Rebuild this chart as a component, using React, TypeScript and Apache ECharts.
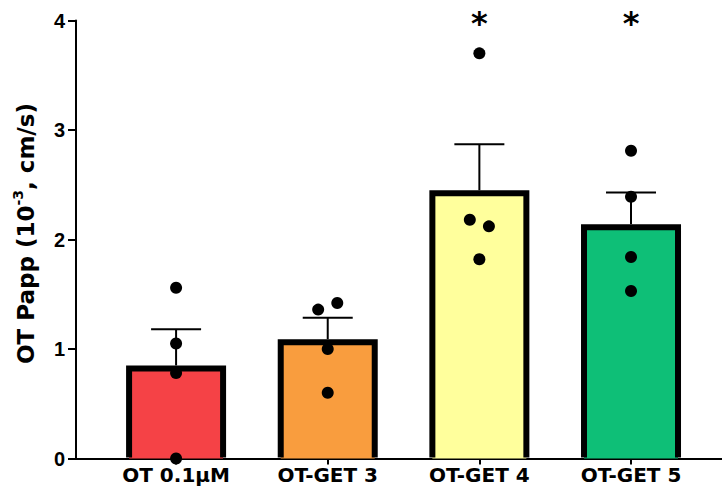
import React, { useEffect, useRef } from "react";
import * as echarts from "echarts";

// ---- data ----
const categories = ["OT 0.1μM", "OT-GET 3", "OT-GET 4", "OT-GET 5"];
const means = [0.85, 1.09, 2.45, 2.14];
const sems = [0.33, 0.195, 0.42, 0.29];
const barColors = ["#F54246", "#F99D3E", "#FFFF9C", "#0EBF77"];
// individual points per group
const group1Points = [1.56, 1.05, 0.78, 0.0];
const group2Points = [1.42, 1.36, 1.0, 0.6];
const group3Points = [3.7, 2.18, 2.12, 1.82];
const group4Points = [2.81, 2.39, 1.84, 1.53];
// horizontal jitter of each point (category units)
const group1Jitter = [0, 0, 0, 0];
const group2Jitter = [0.063, -0.063, 0, 0];
const group3Jitter = [0, -0.063, 0.063, 0];
const group4Jitter = [0, 0, 0, 0];
const sigMarks = ["", "", "*", "*"];
const sigLevel = 3.98;
const yTicks = [0, 1, 2, 3, 4];

const FONT = "DejaVu Sans";
const TICK_FONT = "Liberation Sans";
const BAR_HALF = 47; // px, stroke centre
const BORDER = 6;
const CAP_HALF = 25;

export default function App() {
  const ref = useRef<HTMLDivElement>(null);
  useEffect(() => {
    if (!ref.current) return;
    const chart = echarts.init(ref.current, null, { renderer: "svg" });

    const pointGroups = [group1Points, group2Points, group3Points, group4Points];
    const jitterGroups = [group1Jitter, group2Jitter, group3Jitter, group4Jitter];
    const scatterData: number[][] = [];
    pointGroups.forEach((g, i) =>
      g.forEach((v, j) => scatterData.push([i + jitterGroups[i][j], v]))
    );

    const barData = means.map((m, i) => [i, m]);
    const errData = means.map((m, i) => [i, m, sems[i]]);
    const sigData = sigMarks
      .map((s, i) => [i, sigLevel, s] as any[])
      .filter((d) => d[2]);

    chart.setOption({
      animation: false,
      grid: { left: 76, right: 0, top: 20.5, bottom: 36.5, containLabel: false },
      xAxis: {
        type: "value",
        min: -0.66,
        max: 3.6,
        splitLine: { show: false },
        axisLine: { show: true, onZero: false, lineStyle: { color: "#000", width: 2 } },
        axisTick: {
          show: true,
          customValues: [0, 1, 2, 3],
          length: 6,
          lineStyle: { color: "#000", width: 2 },
        },
        axisLabel: {
          customValues: [0, 1, 2, 3],
          formatter: (v: number) => categories[Math.round(v)],
          color: "#000",
          fontFamily: FONT,
          fontWeight: "bold",
          fontSize: 20,
          margin: 6,
        },
      },
      yAxis: {
        type: "value",
        min: 0,
        max: 4,
        interval: 1,
        splitLine: { show: false },
        axisLine: { show: true, onZero: false, lineStyle: { color: "#000", width: 2 } },
        axisTick: { show: true, length: 8, lineStyle: { color: "#000", width: 2 } },
        axisLabel: {
          color: "#000",
          fontFamily: TICK_FONT,
          fontWeight: "bold",
          fontSize: 20,
          margin: 11,
          formatter: (v: number) => (yTicks.includes(v) ? String(v) : ""),
        },
        name: "{a|OT Papp (10}{b|-3}{a|, cm/s)}",
        nameLocation: "middle",
        nameGap: 35,
        nameTextStyle: {
          padding: [0, 0, 0, 12],
          rich: {
            a: { fontFamily: FONT, fontWeight: "bold", fontSize: 23, color: "#000", lineHeight: 30 },
            b: {
              fontFamily: FONT,
              fontWeight: "bold",
              fontSize: 14,
              color: "#000",
              verticalAlign: "top",
              lineHeight: 30,
            },
          },
        },
      },
      series: [
        {
          type: "custom",
          z: 1,
          data: barData,
          renderItem: (params: any, api: any) => {
            const i = api.value(0);
            const top = api.coord([i, api.value(1)]);
            const base = api.coord([i, 0]);
            const cx = top[0];
            const yTop = top[1] + BORDER / 2;
            return {
              type: "group",
              children: [
                {
                  type: "rect",
                  shape: { x: cx - BAR_HALF, y: yTop, width: BAR_HALF * 2, height: base[1] - yTop },
                  style: { fill: barColors[params.dataIndex] },
                },
                {
                  type: "polyline",
                  shape: {
                    points: [
                      [cx - BAR_HALF, base[1] - 1],
                      [cx - BAR_HALF, yTop],
                      [cx + BAR_HALF, yTop],
                      [cx + BAR_HALF, base[1] - 1],
                    ],
                  },
                  style: { stroke: "#000", lineWidth: BORDER, fill: "none", lineJoin: "miter" },
                },
              ],
            };
          },
        },
        {
          type: "custom",
          z: 2,
          data: errData,
          renderItem: (params: any, api: any) => {
            const i = api.value(0);
            const m = api.value(1);
            const e = api.value(2);
            const p0 = api.coord([i, m]);
            const p1 = api.coord([i, m + e]);
            return {
              type: "group",
              children: [
                {
                  type: "line",
                  shape: { x1: p0[0], y1: p0[1], x2: p1[0], y2: p1[1] },
                  style: { stroke: "#000", lineWidth: 2 },
                },
                {
                  type: "line",
                  shape: { x1: p1[0] - CAP_HALF, y1: p1[1], x2: p1[0] + CAP_HALF, y2: p1[1] },
                  style: { stroke: "#000", lineWidth: 2 },
                },
              ],
            };
          },
        },
        {
          type: "scatter",
          z: 3,
          data: scatterData,
          symbol: "circle",
          symbolSize: 12,
          itemStyle: { color: "#000", opacity: 1 },
        },
        {
          type: "custom",
          z: 3,
          data: sigData,
          renderItem: (params: any, api: any) => {
            const p = api.coord([api.value(0), api.value(1)]);
            return {
              type: "text",
              x: p[0],
              y: p[1],
              style: {
                text: sigData[params.dataIndex][2],
                fontFamily: FONT,
                fontWeight: "bold",
                fontSize: 32,
                fill: "#000",
                align: "center",
                verticalAlign: "middle",
              },
            };
          },
        },
      ],
    });
    return () => chart.dispose();
  }, []);
  return <div ref={ref} style={{ width: 722, height: 495, position: "absolute", left: 0, top: 0 }} />;
}
